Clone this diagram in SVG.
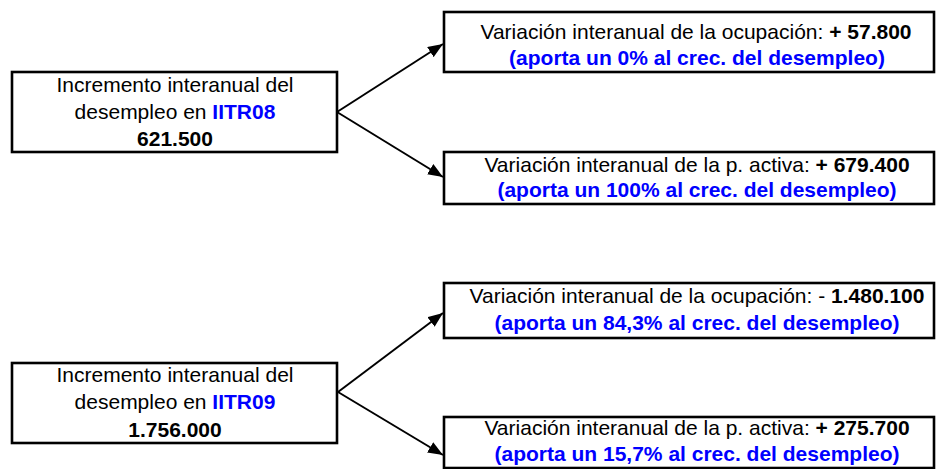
<svg xmlns="http://www.w3.org/2000/svg" width="936" height="469" viewBox="0 0 936 469">
<defs>
<style>
.box{fill:#fff;stroke:#000;stroke-width:2.6}
.t{font-family:"Liberation Sans",Arial,sans-serif;font-size:21px;fill:#000;text-anchor:middle}
.b{font-weight:bold}
.blue{fill:#0000ff;font-weight:bold}
.con{stroke:#000;stroke-width:2;fill:none;marker-end:url(#ah)}
</style>
<marker id="ah" markerUnits="userSpaceOnUse" markerWidth="16" markerHeight="12" refX="15" refY="6" orient="auto">
<path d="M0,0 L15,6 L0,12 z" fill="#000"/>
</marker>
</defs>
<g id="connectors">
<line class="con" x1="337" y1="112" x2="443" y2="44"/>
<line class="con" x1="337" y1="112" x2="443" y2="177"/>
<line class="con" x1="338" y1="392" x2="443" y2="313"/>
<line class="con" x1="338" y1="392" x2="443" y2="455"/>
</g>
<g id="node-inc08">
<rect class="box" x="12" y="72" width="325" height="80"/>
<text class="t" x="175" y="92">Incremento interanual del</text>
<text class="t" x="175" y="119">desempleo en <tspan class="blue">IITR08</tspan></text>
<text class="t b" x="175" y="146">621.500</text>
</g>
<g id="node-ocup08">
<rect class="box" x="444" y="12" width="490" height="60"/>
<text class="t" x="696" y="39">Variación interanual de la ocupación: <tspan class="b">+ 57.800</tspan></text>
<text class="t blue" x="697" y="65">(aporta un 0% al crec. del desempleo)</text>
</g>
<g id="node-activa08">
<rect class="box" x="444" y="152" width="490" height="52"/>
<text class="t" x="697" y="172">Variación interanual de la p. activa: <tspan class="b">+ 679.400</tspan></text>
<text class="t blue" x="697" y="197">(aporta un 100% al crec. del desempleo)</text>
</g>
<g id="node-inc09">
<rect class="box" x="12" y="363" width="325" height="80"/>
<text class="t" x="175" y="382">Incremento interanual del</text>
<text class="t" x="175" y="409">desempleo en <tspan class="blue">IITR09</tspan></text>
<text class="t b" x="175" y="437">1.756.000</text>
</g>
<g id="node-ocup09">
<rect class="box" x="444" y="283" width="490" height="55"/>
<text class="t" x="697" y="303">Variación interanual de la ocupación: - <tspan class="b">1.480.100</tspan></text>
<text class="t blue" x="697" y="330">(aporta un 84,3% al crec. del desempleo)</text>
</g>
<g id="node-activa09">
<rect class="box" x="444" y="417" width="490" height="51"/>
<text class="t" x="697" y="435">Variación interanual de la p. activa: <tspan class="b">+ 275.700</tspan></text>
<text class="t blue" x="697" y="461">(aporta un 15,7% al crec. del desempleo)</text>
</g>
</svg>
